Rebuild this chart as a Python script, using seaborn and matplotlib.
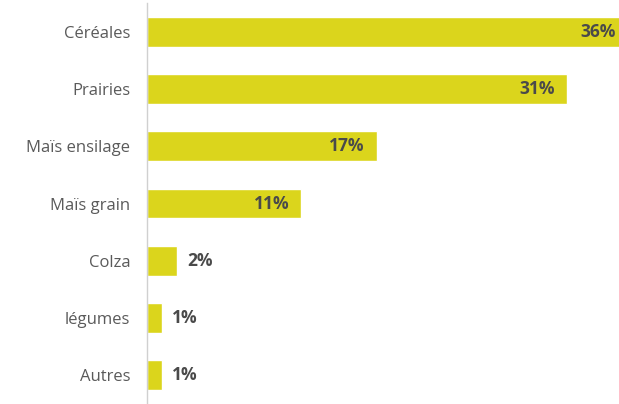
import matplotlib
matplotlib.use("Agg")
import matplotlib.pyplot as plt
import seaborn as sns
import pandas as pd

categories = ["Céréales", "Prairies", "Maïs ensilage", "Maïs grain", "Colza", "légumes", "Autres"]
shares = [36, 31.1, 17.0, 11.4, 2.2, 1.1, 1.1]
labels = ["36%", "31%", "17%", "11%", "2%", "1%", "1%"]

sns.set_theme(style="white")
plt.rcParams["font.family"] = ["Open Sans", "DejaVu Sans"]

df = pd.DataFrame({"cat": categories, "share": shares})

fig = plt.figure(figsize=(6.19, 4.04), dpi=100)
ax = fig.add_axes([147 / 619, 0.0, 1 - 147 / 619, 401 / 404])
sns.barplot(data=df, x="share", y="cat", orient="h", color="#dbd51c",
            saturation=1, width=0.52, ax=ax)

xmax = 472 / 13.5
ax.set_xlim(0, xmax)
ax.set_ylim(6.5, -0.5)
ax.set_xlabel("")
ax.set_ylabel("")
ax.set_xticks([])
for s in ["top", "right", "bottom"]:
    ax.spines[s].set_visible(False)
ax.spines["left"].set_color("#d0d0d0")
ax.spines["left"].set_linewidth(1.0)
ax.tick_params(axis="y", length=0, pad=12, labelsize=12, labelcolor="#5a5a5a")

for i, (v, lab) in enumerate(zip(shares, labels)):
    if v > 5:
        x = min(v, 35.6)
        ax.annotate(lab, xy=(x, i), xytext=(-8.5, 0), textcoords="offset points",
                    ha="right", va="center", fontsize=12.5, fontweight="bold",
                    color="#4a4a4a", annotation_clip=False)
    else:
        ax.annotate(lab, xy=(v, i), xytext=(7.5, 0), textcoords="offset points",
                    ha="left", va="center", fontsize=12.5, fontweight="bold",
                    color="#4a4a4a")

fig.savefig("out.png", dpi=100)
